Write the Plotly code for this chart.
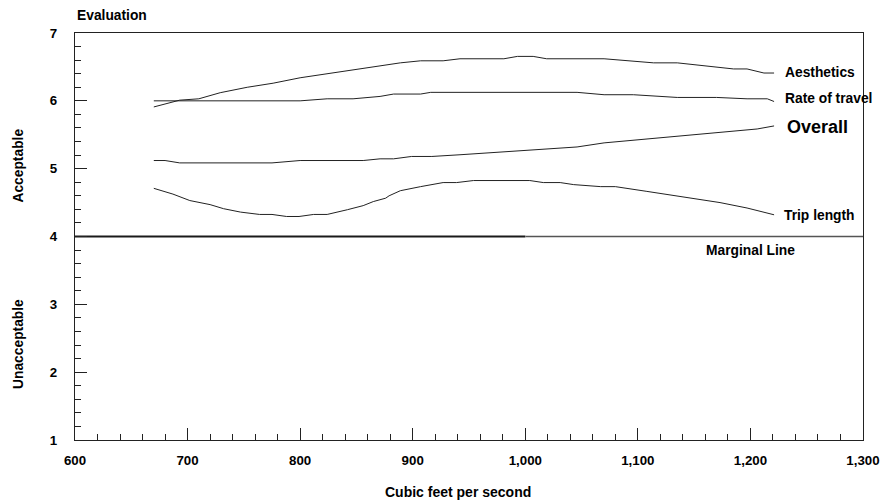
import plotly.graph_objects as go

FONT = "Liberation Sans, Arial, Helvetica, sans-serif"
LINE_COLOR = "#222222"

# ---- data ----
aes_x = [670, 693, 710, 729, 753, 776, 800, 824, 847, 871, 889, 907, 927, 942, 981, 993, 1007, 1019, 1070, 1114, 1135, 1185, 1197, 1212, 1221]
aes_y = [5.91, 6.01, 6.03, 6.12, 6.20, 6.26, 6.34, 6.40, 6.46, 6.51, 6.56, 6.59, 6.59, 6.62, 6.62, 6.655, 6.655, 6.62, 6.62, 6.56, 6.56, 6.47, 6.47, 6.41, 6.41]

rate_x = [670, 800, 824, 847, 871, 883, 907, 916, 1046, 1070, 1096, 1135, 1170, 1197, 1215, 1221]
rate_y = [6.00, 6.00, 6.03, 6.03, 6.065, 6.10, 6.10, 6.125, 6.125, 6.09, 6.09, 6.05, 6.05, 6.03, 6.03, 5.99]

overall_x = [670, 680, 693, 775, 800, 856, 871, 883, 899, 917, 942, 996, 1046, 1070, 1105, 1150, 1185, 1206, 1221]
overall_y = [5.12, 5.12, 5.085, 5.085, 5.12, 5.12, 5.145, 5.145, 5.18, 5.18, 5.205, 5.265, 5.32, 5.38, 5.435, 5.50, 5.55, 5.585, 5.63]

trip_x = [670, 687, 702, 720, 732, 747, 764, 775, 788, 799, 812, 824, 842, 856, 865, 876, 879, 889, 907, 927, 939, 954, 1004, 1016, 1031, 1043, 1067, 1080, 1108, 1138, 1173, 1197, 1209, 1221]
trip_y = [4.71, 4.625, 4.53, 4.47, 4.41, 4.36, 4.325, 4.325, 4.295, 4.295, 4.325, 4.325, 4.395, 4.455, 4.515, 4.565, 4.60, 4.675, 4.735, 4.795, 4.795, 4.825, 4.825, 4.795, 4.795, 4.765, 4.735, 4.735, 4.665, 4.59, 4.50, 4.42, 4.37, 4.32]

# marginal line: dark part 600-1000, lighter part 1000-1300
marginal_x = [600, 1000, 1300]
marginal_y = [4, 4, 4]

series_names = ["Aesthetics", "Rate of travel", "Overall", "Trip length"]
label_pos = [(1229, 6.425), (1229, 6.04), (1231, 5.613), (1227.6, 4.305)]
label_sizes = [13.8, 13.8, 18, 13.8]

x_ticks = [600, 700, 800, 900, 1000, 1100, 1200, 1300]
y_ticks = [1, 2, 3, 4, 5, 6, 7]

fig = go.Figure()

fig.add_trace(go.Scatter(x=marginal_x[:2], y=marginal_y[:2], mode="lines",
                         line=dict(color="#1a1a1a", width=2), hoverinfo="skip"))
fig.add_trace(go.Scatter(x=marginal_x[1:], y=marginal_y[1:], mode="lines",
                         line=dict(color="#555555", width=1.5), hoverinfo="skip"))

for xs, ys, nm in zip([aes_x, rate_x, overall_x, trip_x],
                      [aes_y, rate_y, overall_y, trip_y], series_names):
    fig.add_trace(go.Scatter(x=xs, y=ys, mode="lines", name=nm,
                             line=dict(color=LINE_COLOR, width=1)))

annotations = []
for nm, (ax, ay), sz in zip(series_names, label_pos, label_sizes):
    annotations.append(dict(x=ax, y=ay, xref="x", yref="y", text="<b>%s</b>" % nm,
                            showarrow=False, xanchor="left", yanchor="middle",
                            font=dict(family=FONT, size=sz, color="#000")))
annotations.append(dict(x=1199.7, y=3.79, xref="x", yref="y", text="<b>Marginal Line</b>",
                        showarrow=False, xanchor="center", yanchor="middle",
                        font=dict(family=FONT, size=13.8, color="#000")))
annotations.append(dict(x=0.0, y=1.044, xref="paper", yref="paper", text="<b>Evaluation</b>",
                        showarrow=False, xanchor="left", yanchor="middle",
                        font=dict(family=FONT, size=13.8, color="#000")))
annotations.append(dict(x=0.486, y=-0.127, xref="paper", yref="paper",
                        text="<b>Cubic feet per second</b>",
                        showarrow=False, xanchor="center", yanchor="middle",
                        font=dict(family=FONT, size=14, color="#000")))
annotations.append(dict(x=-0.072, y=5.05, xref="paper", yref="y", text="<b>Acceptable</b>",
                        textangle=-90, showarrow=False, xanchor="center", yanchor="middle",
                        font=dict(family=FONT, size=13.8, color="#000")))
annotations.append(dict(x=-0.072, y=2.42, xref="paper", yref="y", text="<b>Unacceptable</b>",
                        textangle=-90, showarrow=False, xanchor="center", yanchor="middle",
                        font=dict(family=FONT, size=13.8, color="#000")))

fig.update_layout(
    width=880, height=500,
    margin=dict(l=75, r=17, t=33, b=60, autoexpand=False),
    paper_bgcolor="white", plot_bgcolor="white",
    showlegend=False,
    annotations=annotations,
    font=dict(family=FONT, color="#000"),
)

fig.update_xaxes(
    range=[600, 1300], tickvals=x_ticks, ticktext=["{:,}".format(v) for v in x_ticks],
    ticks="inside", ticklen=12, tickwidth=1, tickcolor="#222",
    minor=dict(dtick=20, tick0=600, ticks="inside", ticklen=6, tickwidth=1, tickcolor="#222", showgrid=False),
    showline=True, linecolor="#222", linewidth=1.2, mirror=True,
    showgrid=False, zeroline=False, automargin=False,
    tickfont=dict(family=FONT, size=13.3, color="#000", weight="bold"),
    ticklabelstandoff=8,
)
fig.update_yaxes(
    range=[1, 7], tickvals=y_ticks,
    ticks="inside", ticklen=12, tickwidth=1, tickcolor="#222",
    minor=dict(dtick=0.2, tick0=1, ticks="inside", ticklen=6, tickwidth=1, tickcolor="#222", showgrid=False),
    showline=True, linecolor="#222", linewidth=1.2, mirror=True,
    showgrid=False, zeroline=False, automargin=False,
    tickfont=dict(family=FONT, size=13.3, color="#000", weight="bold"),
    ticklabelstandoff=14,
)

fig.write_html("out.html")
